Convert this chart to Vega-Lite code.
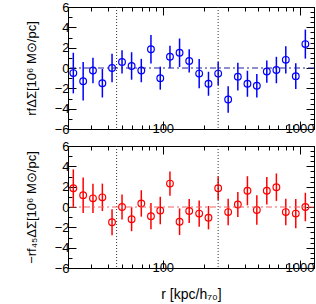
{
  "$schema": "https://vega.github.io/schema/vega-lite/v6.json",
  "padding": {"left": 24, "top": 0, "right": 0, "bottom": 0},
  "spacing": -1,
  "datasets": {
    "top": [
      {"r": 22.2, "v": -0.5, "e": 2.0},
      {"r": 26.2, "v": -1.3, "e": 1.9},
      {"r": 30.9, "v": -0.25, "e": 1.25},
      {"r": 36.2, "v": -1.5, "e": 1.4},
      {"r": 42.6, "v": 0.0, "e": 1.4},
      {"r": 50.4, "v": 0.6, "e": 1.15},
      {"r": 59.2, "v": 0.2, "e": 1.35},
      {"r": 69.7, "v": -0.25, "e": 1.15},
      {"r": 82.0, "v": 1.85, "e": 1.4},
      {"r": 95.9, "v": -1.0, "e": 1.13},
      {"r": 112.9, "v": 1.1, "e": 1.1},
      {"r": 132.7, "v": 1.5, "e": 1.4},
      {"r": 156.1, "v": 0.7, "e": 1.15},
      {"r": 184.6, "v": -0.55, "e": 1.43},
      {"r": 215.9, "v": -1.55, "e": 1.18},
      {"r": 254.2, "v": -0.55, "e": 1.15},
      {"r": 300.7, "v": -3.1, "e": 1.3},
      {"r": 353.9, "v": -0.85, "e": 1.36},
      {"r": 415.9, "v": -1.55, "e": 1.28},
      {"r": 487.1, "v": -1.75, "e": 1.15},
      {"r": 576.2, "v": -0.35, "e": 1.1},
      {"r": 677.0, "v": -0.2, "e": 1.3},
      {"r": 793.2, "v": 0.8, "e": 1.35},
      {"r": 938.2, "v": -0.8, "e": 1.26},
      {"r": 1102.4, "v": 2.35, "e": 1.43}
    ],
    "bottom": [
      {"r": 22.2, "v": 1.85, "e": 1.85},
      {"r": 26.2, "v": 1.15, "e": 1.75},
      {"r": 30.9, "v": 0.85, "e": 1.43},
      {"r": 36.2, "v": 0.95, "e": 1.35},
      {"r": 42.6, "v": -1.5, "e": 1.27},
      {"r": 50.4, "v": 0.0, "e": 1.23},
      {"r": 59.2, "v": -1.2, "e": 1.18},
      {"r": 69.7, "v": 0.35, "e": 1.3},
      {"r": 82.0, "v": -0.9, "e": 1.3},
      {"r": 95.9, "v": -0.35, "e": 1.35},
      {"r": 112.9, "v": 2.3, "e": 1.2},
      {"r": 132.7, "v": -1.45, "e": 1.31},
      {"r": 156.1, "v": -0.4, "e": 1.18},
      {"r": 184.6, "v": -0.65, "e": 1.3},
      {"r": 215.9, "v": -1.05, "e": 1.15},
      {"r": 254.2, "v": 1.85, "e": 1.15},
      {"r": 300.7, "v": -0.5, "e": 1.3},
      {"r": 353.9, "v": 0.25, "e": 1.23},
      {"r": 415.9, "v": 1.6, "e": 1.43},
      {"r": 487.1, "v": -0.3, "e": 1.45},
      {"r": 576.2, "v": 1.6, "e": 1.36},
      {"r": 677.0, "v": 1.95, "e": 1.35},
      {"r": 793.2, "v": -0.5, "e": 1.3},
      {"r": 938.2, "v": -0.65, "e": 1.43},
      {"r": 1102.4, "v": 0.0, "e": 1.4}
    ],
    "vlines": [{"rv": 46}, {"rv": 254}],
    "zero": [{"z": 0}]
  },
  "config": {
    "view": {"stroke": "black", "strokeWidth": 1},
    "axis": {
      "labelFont": "Liberation Sans", "labelFontSize": 13, "labelColor": "black",
      "titleFont": "Liberation Sans", "titleFontSize": 13, "titleFontWeight": "normal", "titleColor": "black",
      "domainColor": "black", "tickColor": "black", "grid": false, "labelOverlap": false, "labelFlush": false
    }
  },
  "vconcat": [
    {
      "width": 246, "height": 122,
      "resolve": {"axis": {"x": "independent", "y": "independent"}},
      "layer": [
        {
          "data": {"name": "top"},
          "mark": {"type": "errorbar", "color": "#0000ff", "thickness": 1.5},
          "encoding": {
            "x": {"field": "r", "type": "quantitative", "scale": {"type": "log", "domain": [20.3, 1275]},
              "axis": {"orient": "bottom", "title": null, "format": "d", "values": [30,40,50,60,70,80,90,100,200,300,400,500,600,700,800,900,1000],
                "labelExpr": "(datum.value === 100 || datum.value === 1000) ? datum.label : ''",
                "tickSize": {"condition": {"test": "datum.value === 100 || datum.value === 1000", "value": -8}, "value": -4}, "labelPadding": 1}},
            "y": {"field": "v", "type": "quantitative", "scale": {"domain": [-6, 6]},
              "axis": {"orient": "left", "title": "rfΔΣ[10⁶ M⊙/pc]", "format": "d", "values": [-6,-5.5,-5,-4.5,-4,-3.5,-3,-2.5,-2,-1.5,-1,-0.5,0,0.5,1,1.5,2,2.5,3,3.5,4,4.5,5,5.5,6],
                "labelExpr": "datum.value % 2 === 0 ? datum.label : ''",
                "tickSize": {"condition": {"test": "datum.value % 2 === 0", "value": -8}, "value": -4}, "labelPadding": 7, "titlePadding": 16}},
            "yError": {"field": "e"}
          }
        },
        {
          "data": {"name": "top"},
          "mark": {"type": "point", "shape": "circle", "filled": false, "color": "#0000ff", "size": 45, "strokeWidth": 1.2, "opacity": 1},
          "encoding": {
            "x": {"field": "r", "type": "quantitative", "scale": {"type": "log", "domain": [20.3, 1275]}, "axis": null},
            "y": {"field": "v", "type": "quantitative", "scale": {"domain": [-6, 6]}, "axis": null}
          }
        },
        {
          "data": {"name": "vlines"},
          "mark": {"type": "rule", "color": "#333333", "strokeDash": [1, 2], "strokeWidth": 1},
          "encoding": {
            "x": {"field": "rv", "type": "quantitative", "scale": {"type": "log", "domain": [20.3, 1275]},
              "axis": {"orient": "top", "title": null, "labels": false, "values": [30,40,50,60,70,80,90,100,200,300,400,500,600,700,800,900,1000],
                "tickSize": {"condition": {"test": "datum.value === 100 || datum.value === 1000", "value": -8}, "value": -4}}}
          }
        },
        {
          "data": {"name": "zero"},
          "mark": {"type": "rule", "color": "#2020a0", "strokeDash": [6, 3, 2, 3], "strokeWidth": 1},
          "encoding": {
            "y": {"field": "z", "type": "quantitative", "scale": {"domain": [-6, 6]},
              "axis": {"orient": "right", "title": null, "labels": false, "values": [-6,-5.5,-5,-4.5,-4,-3.5,-3,-2.5,-2,-1.5,-1,-0.5,0,0.5,1,1.5,2,2.5,3,3.5,4,4.5,5,5.5,6],
                "tickSize": {"condition": {"test": "datum.value % 2 === 0", "value": -8}, "value": -4}}}
          }
        }
      ]
    },
    {
      "width": 246, "height": 122,
      "resolve": {"axis": {"x": "independent", "y": "independent"}},
      "layer": [
        {
          "data": {"name": "bottom"},
          "mark": {"type": "errorbar", "color": "#ff0000", "thickness": 1.5},
          "encoding": {
            "x": {"field": "r", "type": "quantitative", "scale": {"type": "log", "domain": [20.3, 1275]},
              "axis": {"orient": "bottom", "title": "r [kpc/h₇₀]", "titleFontSize": 14, "format": "d", "values": [30,40,50,60,70,80,90,100,200,300,400,500,600,700,800,900,1000],
                "labelExpr": "(datum.value === 100 || datum.value === 1000) ? datum.label : ''",
                "tickSize": {"condition": {"test": "datum.value === 100 || datum.value === 1000", "value": -8}, "value": -4}, "labelPadding": 1, "titlePadding": 9}},
            "y": {"field": "v", "type": "quantitative", "scale": {"domain": [-6, 6]},
              "axis": {"orient": "left", "title": "−rf₄₅ΔΣ[10⁶ M⊙/pc]", "format": "d", "values": [-6,-5.5,-5,-4.5,-4,-3.5,-3,-2.5,-2,-1.5,-1,-0.5,0,0.5,1,1.5,2,2.5,3,3.5,4,4.5,5,5.5,6],
                "labelExpr": "datum.value % 2 === 0 ? datum.label : ''",
                "tickSize": {"condition": {"test": "datum.value % 2 === 0", "value": -8}, "value": -4}, "labelPadding": 7, "titlePadding": 16}},
            "yError": {"field": "e"}
          }
        },
        {
          "data": {"name": "bottom"},
          "mark": {"type": "point", "shape": "circle", "filled": false, "color": "#ff0000", "size": 45, "strokeWidth": 1.2, "opacity": 1},
          "encoding": {
            "x": {"field": "r", "type": "quantitative", "scale": {"type": "log", "domain": [20.3, 1275]}, "axis": null},
            "y": {"field": "v", "type": "quantitative", "scale": {"domain": [-6, 6]}, "axis": null}
          }
        },
        {
          "data": {"name": "vlines"},
          "mark": {"type": "rule", "color": "#333333", "strokeDash": [1, 2], "strokeWidth": 1},
          "encoding": {
            "x": {"field": "rv", "type": "quantitative", "scale": {"type": "log", "domain": [20.3, 1275]},
              "axis": {"orient": "top", "title": null, "labels": false, "values": [30,40,50,60,70,80,90,100,200,300,400,500,600,700,800,900,1000],
                "tickSize": {"condition": {"test": "datum.value === 100 || datum.value === 1000", "value": -8}, "value": -4}}}
          }
        },
        {
          "data": {"name": "zero"},
          "mark": {"type": "rule", "color": "#f06060", "strokeDash": [6, 3, 2, 3], "strokeWidth": 1},
          "encoding": {
            "y": {"field": "z", "type": "quantitative", "scale": {"domain": [-6, 6]},
              "axis": {"orient": "right", "title": null, "labels": false, "values": [-6,-5.5,-5,-4.5,-4,-3.5,-3,-2.5,-2,-1.5,-1,-0.5,0,0.5,1,1.5,2,2.5,3,3.5,4,4.5,5,5.5,6],
                "tickSize": {"condition": {"test": "datum.value % 2 === 0", "value": -8}, "value": -4}}}
          }
        }
      ]
    }
  ]
}
